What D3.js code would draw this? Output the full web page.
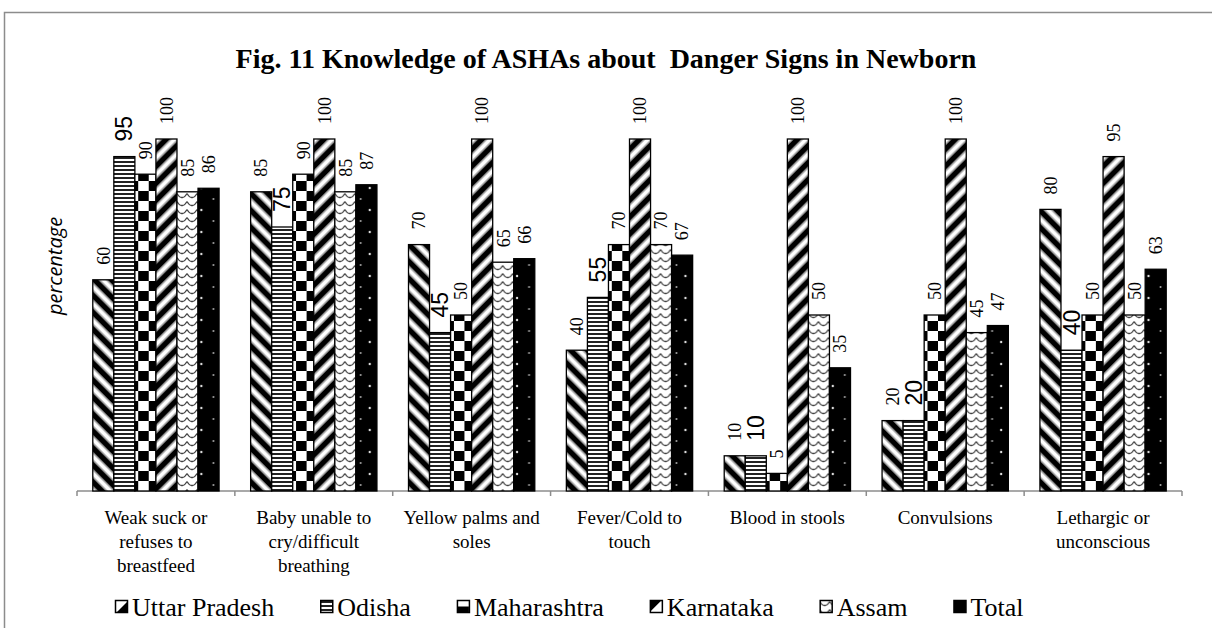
<!DOCTYPE html>
<html lang="en">
  <head>
    <meta charset="UTF-8" />
    <title>Fig. 11 Knowledge of ASHAs about Danger Signs in Newborn</title>
    <style>
      body { margin: 0; background: #fff; }
    </style>
  </head>
  <body>
    <svg id="svg" width="1212" height="628"></svg>

    <script src="https://d3js.org/d3.v7.min.js"></script>
    <script>
      // data
      const categories = [
        ["Weak suck or", "refuses to", "breastfeed"],
        ["Baby unable to", "cry/difficult", "breathing"],
        ["Yellow palms and", "soles"],
        ["Fever/Cold to", "touch"],
        ["Blood in stools"],
        ["Convulsions"],
        ["Lethargic or", "unconscious"],
      ];
      const series = ["Uttar Pradesh", "Odisha", "Maharashtra", "Karnataka", "Assam", "Total"];
      const uttarPradesh = [60, 85, 70, 40, 10, 20, 80];
      const odisha = [95, 75, 45, 55, 10, 20, 40];
      const maharashtra = [90, 90, 50, 70, 5, 50, 50];
      const karnataka = [100, 100, 100, 100, 100, 100, 95];
      const assam = [85, 85, 65, 70, 50, 45, 50];
      const total = [86, 87, 66, 67, 35, 47, 63];
      const values = [uttarPradesh, odisha, maharashtra, karnataka, assam, total];

      const svg = d3.select("#svg");
      const serif = "'Liberation Serif', 'Times New Roman', serif";
      const sans = "'Liberation Sans', Arial, sans-serif";

      // frame (only top and left edges are visible in the figure)
      svg.append("path")
        .attr("d", "M4.5,700 V12.5 H1220")
        .attr("fill", "none")
        .attr("stroke", "#8c8c8c")
        .attr("stroke-width", 1.5);

      svg.append("text")
        .attr("x", 606)
        .attr("y", 68)
        .attr("text-anchor", "middle")
        .attr("font-family", serif)
        .attr("font-weight", "bold")
        .attr("font-size", 28)
        .style("white-space", "pre")
        .text("Fig. 11 Knowledge of ASHAs about  Danger Signs in Newborn");

      const x0 = d3.scaleBand()
        .domain(d3.range(categories.length))
        .range([77, 1182]);
      const bw0 = x0.bandwidth();
      const x1 = d3.scaleBand()
        .domain(d3.range(series.length))
        .range([bw0 * 0.1, bw0 * 0.9]);
      const bw = x1.bandwidth();
      const y = d3.scaleLinear().domain([0, 100]).range([491, 139]);

      // fill patterns
      const defs = svg.append("defs");
      function stripes(id, angle) {
        const p = defs.append("pattern")
          .attr("id", id)
          .attr("patternUnits", "userSpaceOnUse")
          .attr("width", 12)
          .attr("height", 12)
          .attr("patternTransform", `rotate(${angle})`);
        p.append("rect").attr("width", 12).attr("height", 12).attr("fill", "#fff");
        p.append("rect").attr("y", 2.5).attr("width", 12).attr("height", 6).attr("fill", "#000");
        p.append("rect").attr("y", 1.5).attr("width", 12).attr("height", 1).attr("fill", "#888");
        p.append("rect").attr("y", 8.5).attr("width", 12).attr("height", 1).attr("fill", "#888");
      }
      stripes("p-up", 45);
      stripes("p-ka", -45);

      const od = defs.append("pattern")
        .attr("id", "p-od")
        .attr("patternUnits", "userSpaceOnUse")
        .attr("width", 8)
        .attr("height", 4);
      od.append("rect").attr("width", 8).attr("height", 4).attr("fill", "#fff");
      od.append("rect").attr("y", 1).attr("width", 8).attr("height", 2).attr("fill", "#222");

      const as = defs.append("pattern")
        .attr("id", "p-as")
        .attr("patternUnits", "userSpaceOnUse")
        .attr("width", 10)
        .attr("height", 8);
      as.append("rect").attr("width", 10).attr("height", 8).attr("fill", "#fff");
      as.append("path")
        .attr("d", "M0,1.5 Q2.5,6 5,5.5 Q7.5,6 10,1.5")
        .attr("fill", "none")
        .attr("stroke", "#444")
        .attr("stroke-width", 1.4);

      // checks and dots are lined up with each bar
      categories.forEach((c, i) => {
        const mx = x0(i) + x1(2);
        const cw = bw / 2;
        const mh = defs.append("pattern")
          .attr("id", `p-mh-${i}`)
          .attr("patternUnits", "userSpaceOnUse")
          .attr("x", mx)
          .attr("y", 491)
          .attr("width", bw)
          .attr("height", 20);
        mh.append("rect").attr("width", bw).attr("height", 20).attr("fill", "#fff");
        mh.append("rect").attr("x", cw).attr("width", cw).attr("height", 10).attr("fill", "#000");
        mh.append("rect").attr("y", 10).attr("width", cw).attr("height", 10).attr("fill", "#000");

        const tx = x0(i) + x1(5);
        const to = defs.append("pattern")
          .attr("id", `p-to-${i}`)
          .attr("patternUnits", "userSpaceOnUse")
          .attr("x", tx)
          .attr("y", 491)
          .attr("width", bw)
          .attr("height", 22);
        to.append("rect").attr("width", bw).attr("height", 22).attr("fill", "#000");
        to.append("circle").attr("cx", cw).attr("cy", 5).attr("r", 1.2).attr("fill", "#ddd");
        to.append("circle").attr("cx", 1.5).attr("cy", 16).attr("r", 1).attr("fill", "#aaa");
      });

      const fillFor = (s, i) => {
        if (s === 0) return "url(#p-up)";
        if (s === 1) return "url(#p-od)";
        if (s === 2) return `url(#p-mh-${i})`;
        if (s === 3) return "url(#p-ka)";
        if (s === 4) return "url(#p-as)";
        return `url(#p-to-${i})`;
      };

      // axis line with ticks at category boundaries
      const axis = svg.append("g").attr("stroke", "#8c8c8c").attr("stroke-width", 1.5);
      axis.append("line")
        .attr("x1", x0.range()[0]).attr("x2", x0.range()[1])
        .attr("y1", y(0)).attr("y2", y(0));
      axis.selectAll(".tick")
        .data(d3.range(categories.length + 1))
        .join("line")
        .attr("x1", (d) => x0.range()[0] + d * bw0)
        .attr("x2", (d) => x0.range()[0] + d * bw0)
        .attr("y1", y(0))
        .attr("y2", y(0) + 5);

      const groups = svg.append("g")
        .selectAll("g")
        .data(categories)
        .join("g")
        .attr("transform", (d, i) => `translate(${x0(i)},0)`);

      const cells = groups.selectAll("g")
        .data((d, i) => series.map((s, j) => ({ s: j, i: i, v: values[j][i] })))
        .join("g");

      cells.append("rect")
        .attr("x", (d) => x1(d.s))
        .attr("y", (d) => y(d.v))
        .attr("width", bw)
        .attr("height", (d) => y(0) - y(d.v))
        .attr("fill", (d) => fillFor(d.s, d.i))
        .attr("stroke", "#000")
        .attr("stroke-width", 1.3);

      // value labels, rotated
      cells.append("text")
        .attr("transform", (d) => `translate(${x1(d.s) + bw / 2},${y(d.v) - 15}) rotate(-90)`)
        .attr("dy", "0.35em")
        .attr("font-family", (d) => (d.s === 1 ? sans : serif))
        .attr("font-size", (d) => (d.s === 1 ? 23 : 18))
        .text((d) => d.v);

      // category labels
      groups.append("text")
        .attr("text-anchor", "middle")
        .attr("font-family", serif)
        .attr("font-size", 19)
        .selectAll("tspan")
        .data((d) => d)
        .join("tspan")
        .attr("x", bw0 / 2)
        .attr("y", (d, k) => 524 + k * 24)
        .text((d) => d);

      svg.append("text")
        .attr("transform", "translate(62,266) rotate(-90)")
        .attr("text-anchor", "middle")
        .attr("font-family", "'Open Sans', sans-serif")
        .attr("font-style", "italic")
        .attr("font-size", 20)
        .text("percentage");

      // legend, entries spaced evenly by their text width
      const leg = svg.append("g")
        .selectAll("g")
        .data(series)
        .join("g");

      leg.append("rect")
        .attr("x", 0.5)
        .attr("y", 0.5)
        .attr("width", 12)
        .attr("height", 12)
        .attr("fill", (d, j) => (j === 1 ? "url(#p-od)" : j === 4 ? "url(#p-as)" : j === 5 ? "#000" : "#fff"))
        .attr("stroke", "#000")
        .attr("stroke-width", 1.5);
      leg.filter((d, j) => j === 0).append("path").attr("d", "M12,2 V12 H2 Z").attr("fill", "#000");
      leg.filter((d, j) => j === 2).append("rect").attr("x", 1).attr("y", 6.5).attr("width", 11).attr("height", 5.5).attr("fill", "#000");
      leg.filter((d, j) => j === 3).append("path").attr("d", "M1,1 H11 L1,11 Z").attr("fill", "#000");

      leg.append("text")
        .attr("x", 17)
        .attr("y", 16)
        .attr("font-family", serif)
        .attr("font-size", 26)
        .text((d) => d);

      let lx = 115;
      leg.each(function () {
        d3.select(this).attr("transform", `translate(${lx},600)`);
        lx += 17 + d3.select(this).select("text").node().getComputedTextLength() + 46;
      });
    </script>
  </body>
</html>
